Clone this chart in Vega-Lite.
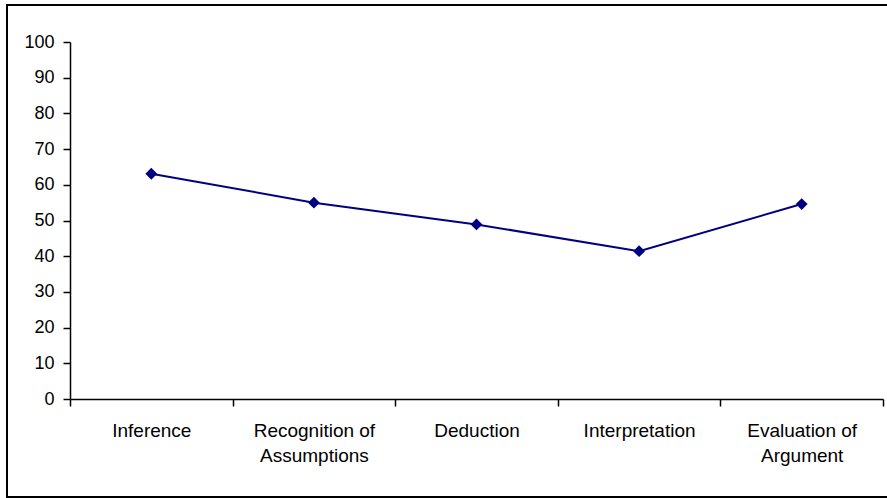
{
  "$schema": "https://vega.github.io/schema/vega-lite/v6.json",
  "autosize": "none",
  "padding": {"left": 7, "top": 5, "right": -20, "bottom": 1},
  "width": 900,
  "height": 492,
  "background": "white",
  "config": {
    "view": {"stroke": "#000000", "strokeWidth": 2},
    "font": "Liberation Sans"
  },
  "data": {
    "values": [
      {"skill": "Inference", "score": 63.1},
      {"skill": "Recognition of Assumptions", "score": 55.0},
      {"skill": "Deduction", "score": 48.9},
      {"skill": "Interpretation", "score": 41.4},
      {"skill": "Evaluation of Argument", "score": 54.6}
    ]
  },
  "encoding": {
    "x": {
      "field": "skill",
      "type": "nominal",
      "sort": null,
      "scale": {"range": [63, 876], "paddingInner": 0, "paddingOuter": 0},
      "axis": {
        "title": null,
        "offset": -98,
        "labelAngle": 0,
        "tickBand": "extent",
        "tickSize": 7,
        "tickColor": "#000000",
        "tickWidth": 1.5,
        "domainColor": "#000000",
        "domainWidth": 1.5,
        "labelFontSize": 19,
        "labelColor": "#000000",
        "labelPadding": 15,
        "labelLineHeight": 25,
        "labelBaseline": "top",
        "labelExpr": "datum.label == 'Recognition of Assumptions' ? ['Recognition of', 'Assumptions'] : datum.label == 'Evaluation of Argument' ? ['Evaluation of', 'Argument'] : datum.label"
      }
    },
    "y": {
      "field": "score",
      "type": "quantitative",
      "scale": {"domain": [0, 100], "range": [394, 37], "nice": false, "zero": true},
      "axis": {
        "title": null,
        "offset": -63,
        "grid": false,
        "values": [0, 10, 20, 30, 40, 50, 60, 70, 80, 90, 100],
        "tickSize": 7,
        "tickColor": "#000000",
        "tickWidth": 1.5,
        "domainColor": "#000000",
        "domainWidth": 1.5,
        "labelFontSize": 18,
        "labelColor": "#000000",
        "labelPadding": 9
      }
    }
  },
  "layer": [
    {"mark": {"type": "line", "color": "#000080", "strokeWidth": 2}},
    {"mark": {"type": "point", "shape": "diamond", "filled": true, "color": "#000080", "size": 140, "opacity": 1}}
  ]
}
